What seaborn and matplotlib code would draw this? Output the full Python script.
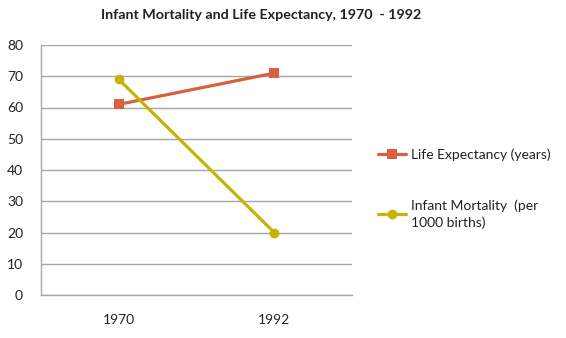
import matplotlib
matplotlib.use("Agg")
import matplotlib.pyplot as plt
import seaborn as sns
import pandas as pd

years = ["1970", "1992"]
life_expectancy = [61, 71]
infant_mortality = [69, 20]
series_names = ["Life Expectancy (years)", "Infant Mortality  (per\n1000 births)"]
yticks = [0, 10, 20, 30, 40, 50, 60, 70, 80]

sns.set_theme(style="white")
plt.rcParams['font.family'] = ['Lato', 'DejaVu Sans']

df = pd.DataFrame({
    "Year": years * 2,
    "Value": life_expectancy + infant_mortality,
    "Series": [series_names[0]] * 2 + [series_names[1]] * 2,
})

fig = plt.figure(figsize=(5.66, 3.38), dpi=100)
ax = fig.add_axes([41/566, 1 - 295/338, 311/566, 250/338])

palette = {series_names[0]: "#D9603E", series_names[1]: "#C8B400"}
markers = {series_names[0]: "s", series_names[1]: "o"}
sns.lineplot(data=df, x="Year", y="Value", hue="Series", style="Series",
             palette=palette, markers=markers, dashes=False,
             markersize=7, linewidth=2.3, markeredgewidth=0, ax=ax, sort=False)

ax.set_xlim(-0.5, 1.5)
ax.set_ylim(0, 80)
ax.set_yticks(yticks)
ax.set_yticklabels([str(t) for t in yticks], fontsize=10, color="#222222")
ax.tick_params(axis="x", labelsize=10, colors="#222222", pad=14, length=0)
ax.tick_params(axis="y", pad=13, length=0)
ax.set_xlabel("")
ax.set_ylabel("")
ax.grid(axis="y", color="#A6A6A6", linewidth=1)
ax.set_axisbelow(True)
for s in ["top", "right"]:
    ax.spines[s].set_visible(False)
for s in ["left", "bottom"]:
    ax.spines[s].set_color("#A6A6A6")
    ax.spines[s].set_linewidth(1)

fig.suptitle("Infant Mortality and Life Expectancy, 1970  - 1992",
             x=261/566, y=1 - 9/338, fontsize=10.3, fontweight="bold", color="#222222")

leg = ax.legend(loc="upper left", bbox_to_anchor=(378/566, 1 - 148/338),
                bbox_transform=fig.transFigure, frameon=False, fontsize=10,
                handlelength=2.0, handletextpad=0.4, labelspacing=2.8,
                borderpad=0, borderaxespad=0)
for t in leg.get_texts():
    t.set_color("#222222")
    t.set_linespacing(1.45)

fig.savefig("out.png", dpi=100, facecolor="white")
